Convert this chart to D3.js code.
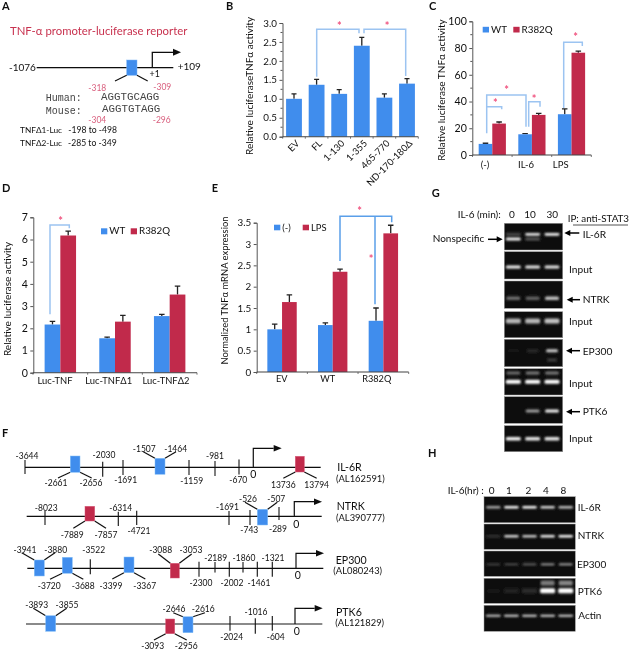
<!DOCTYPE html>
<html><head><meta charset="utf-8">
<script src="https://cdn.jsdelivr.net/npm/d3@7"></script>
<style>html,body{margin:0;padding:0;background:#fff}svg{display:block}text{font-family:Lato,"Open Sans",sans-serif;fill:#111}</style>
</head><body><svg id="c" width="630" height="651"></svg>
<script>
// ---------- bar data ----------
const bCats=["EV","FL","1-130","1-355","465-770","ND-170-180Δ"];
const bVals=[1.0,1.37,1.13,2.4,1.03,1.4];
const bErr=[0.13,0.14,0.11,0.22,0.1,0.13];
const bTicks=[0,0.5,1,1.5,2,2.5,3];
const bMinor=[0.25,0.75,1.25,1.75,2.25,2.75];

const cCats=["(-)","IL-6","LPS"];
const cWT=[8.3,15.5,30.5];
const cWTErr=[0.5,0.5,4];
const cRQ=[23.5,30,76.5];
const cRQErr=[1.2,1.2,1.2];
const cTicks=[0,20,40,60,80,100];
const cMinor=[10,30,50,70,90];

const dCats=["Luc-TNF","Luc-TNFΔ1","Luc-TNFΔ2"];
const dWT=[2.17,1.55,2.55];
const dWTErr=[0.14,0.05,0.08];
const dRQ=[6.18,2.3,3.52];
const dRQErr=[0.2,0.28,0.38];
const dTicks=[0,1,2,3,4,5,6,7];

const eCats=["EV","WT","R382Q"];
const eNeg=[1.0,1.1,1.2];
const eNegErr=[0.12,0.05,0.3];
const eLPS=[1.64,2.35,3.25];
const eLPSErr=[0.17,0.06,0.19];
const eTicks=[0,0.5,1,1.5,2,2.5,3,3.5];

// ---------- gel lane labels & band intensities ----------
const gLanes=["0","10","30"];
const gIL6R=[0.95,0.3,0];
const gIL6RUpper=[0.25,0.9,0.95];
const gInput1=[0.95,0.9,0.9];
const gNTRK=[0.4,0.35,0.75];
const gInput2=[0.7,0.7,0.75];
const gEP300=[0.03,0.12,0.8];
const gEP300Low=[0,0,0.2];
const gInput3=[1,1,1];
const gInput3Upper=[0.4,0.45,0.45];
const gPTK6=[0,0.6,0.95];
const gInput4=[0.95,0.9,0.9];

const hLanes=["0","1","2","4","8"];
const hIL6R=[0.65,1,1,0.85,0.75];
const hNTRK=[0.15,0.85,0.8,0.95,1];
const hEP300=[0.25,0.3,0.4,0.65,0.7];
const hPTK6=[0.02,0.08,0.12,1,1];
const hPTK6Smear=[0,0,0,0.45,0.5];
const hActin=[0.8,0.85,0.85,0.85,0.85];

// ---------- promoter map labels ----------
const il6rTicks=["-3644","-2030","-1691","-1159","-981","-670"];
const il6rTickPos=[[25,460,474,27,459],[102.7,461.7,476.7,104,457.7],[123,460,475,125.7,483.3],[189,460,475,191.7,483.7],[215,461,476,215,459],[239,459.5,474.5,238.3,482.7]];
const il6rSites=[["-2661","-2656"],["-1507","-1464"],["13736","13794"]];
const il6rSitePos=[[70.3,80,456,472.3,1,58,91.7,478,56,91,485.7,0],[155,165,458.3,474.3,0,143.3,176,451.7,144.3,175.7,451.7,0],[295.3,304.3,456.3,472,1,283.3,316.7,478.3,283.3,316.7,487.7,1]];

const ntrkTicks=["-8023","-6314","-4721","-1691","-743","-289"];
const ntrkTickPos=[[45,511,525,46.3,510.7],[118.3,511.7,526,120.7,510.7],[136.7,510.7,525,139,534.3],[229,511,525,227.5,509.5],[250,510,525,249.3,533.3],[279,507,520,278,531.7]];
const ntrkSites=[["-7889","-7857"],["-526","-507"]];
const ntrkSitePos=[[85,94.7,506.3,521,1,73.3,106,528.3,72.3,106,537.7,1],[257.3,267.7,509.3,525,0,245,277.3,502.3,248,276.3,502,0]];

const ep300Ticks=["-3522","-2300","-2189","-2002","-1860","-1461","-1321"];
const ep300TickPos=[[90.3,559.3,574.3,93.7,552.7],[199,561.7,576.7,201,586],[215,562,572.5,215.7,560.7],[229.3,561.7,576.7,232,585.7],[243,562,572.5,244,560.7],[257.3,561.7,576.7,259,585.7],[272.3,561.7,576.7,273,560.7]];
const ep300Sites=[["-3941","-3880"],["-3720","-3688"],["-3399","-3367"],["-3088","-3053"]];
const ep300SitePos=[[34.3,44.3,560,576,0,21.7,55,552.7,25,55.7,553.3,0],[62.3,72.3,557.3,573.3,1,50,83.3,579.3,49.3,83.3,589,0],[124,134,557,572.7,1,112.3,145.3,579,111,144.7,588.7,0],[170.3,179.3,563.3,578,0,158.3,191.7,554,160.7,191,553.3,1]];

const ptk6Ticks=["-2024","-1016","-604"];
const ptk6TickPos=[[230,616,630.7,231.7,640],[255.3,618.3,633.7,256,615],[272.3,616,630.7,275.7,640]];
const ptk6Sites=[["-3893","-3855"],["-3093","-2956"],["-2646","-2616"]];
const ptk6SitePos=[[45.7,55.7,615.7,631.3,0,33.3,66.7,608.3,36.7,67,608.3,0],[165.7,174.7,619,633.7,1,154,186.7,640,152.7,186.3,649,1],[183,193,616.7,632.7,0,173.3,205,612.7,174,203.3,611.7,0]];

// ---------- colours ----------
const BLUE="#418ded",RED="#c12a4c",PINK="#d9607f",STAR="#f0527f",BR="#9cc4f1",BR2="#5a9fe9";

const svg=d3.select("#c");
const defs=svg.append("defs");
defs.append("filter").attr("id","soft").attr("x","-5%").attr("y","-5%").attr("width","110%").attr("height","110%")
  .append("feGaussianBlur").attr("stdDeviation",0.2);
defs.append("filter").attr("id","glow").attr("x","-30%").attr("y","-100%").attr("width","160%").attr("height","300%")
  .append("feGaussianBlur").attr("stdDeviation",0.9);
const root=svg.append("g").attr("filter","url(#soft)");

function T(x,y,s,o={}){
  const t=root.append("text").attr("x",x).attr("y",y).text(s)
    .attr("font-size",o.size||9).attr("text-anchor",o.anchor||"start");
  if(o.color)t.style("fill",o.color);
  if(o.weight)t.attr("font-weight",o.weight);
  if(o.family)t.style("font-family",o.family);
  if(o.rotate!==undefined)t.attr("transform",`rotate(${o.rotate} ${x} ${y})`);
  return t;
}
function L(x1,y1,x2,y2,c="#111",w=1.2){root.append("line").attr("x1",x1).attr("y1",y1).attr("x2",x2).attr("y2",y2).attr("stroke",c).attr("stroke-width",w);}
function P(pts,c=BR,w=1.5){root.append("path").attr("d",d3.line()(pts)).attr("fill","none").attr("stroke",c).attr("stroke-width",w);}
function star(x,y){T(x,y+3.5,"*",{size:11,anchor:"middle",color:STAR,weight:"bold"});}

function yAxis(x,y,ticks,fmt,size,minor){
  const a=root.append("g").attr("transform",`translate(${x},0)`)
    .call(d3.axisLeft(y).tickValues(ticks).tickSize(3).tickPadding(2.5).tickFormat(fmt));
  a.selectAll("path,line").attr("stroke","#555");
  a.selectAll("text").attr("font-size",size).style("font-family","Lato,sans-serif").style("fill","#111");
  if(minor)a.selectAll(".minor").data(minor).enter().append("line").attr("x1",-2).attr("x2",0)
    .attr("y1",d=>y(d)).attr("y2",d=>y(d)).attr("stroke","#555");
}
function xAxis(x,y0){
  const [a,b]=x.range();
  const step=x.step(),first=x(x.domain()[0])-(x.step()-x.bandwidth())/2;
  L(a,y0,b,y0,"#444",1.1);
  d3.range(x.domain().length+1).forEach(i=>L(first+i*step,y0,first+i*step,y0+2,"#555",0.8));
}
function errBars(g,data,cx,top,capW){
  g.selectAll(null).data(data).enter().append("path")
   .attr("d",d=>{const c=cx(d),t=top(d);return `M${c},${d.py}V${t}M${c-capW/2},${t}H${c+capW/2}`;})
   .attr("stroke","#222").attr("stroke-width",1.3).attr("fill","none");
}
function single(cats,vals,errs,x,y){
  const rows=cats.map((c,i)=>({c,v:vals[i],e:errs[i],py:y(vals[i])}));
  const g=root.append("g");
  errBars(g,rows,d=>x(d.c)+x.bandwidth()/2,d=>y(d.v+d.e),5);
  g.selectAll("rect").data(rows).enter().append("rect")
   .attr("x",d=>x(d.c)).attr("width",x.bandwidth()).attr("y",d=>y(d.v)).attr("height",d=>y(0)-y(d.v)).attr("fill",BLUE);
}
function grouped(cats,a,aE,b,bE,x,y){
  const x1=d3.scaleBand().domain([0,1]).range([0,x.bandwidth()]);
  [[a,aE,BLUE,0],[b,bE,RED,1]].forEach(([vals,errs,col,k])=>{
    const rows=cats.map((c,i)=>({c,v:vals[i],e:errs[i],py:y(vals[i])}));
    const g=root.append("g");
    errBars(g,rows,d=>x(d.c)+x1(k)+x1.bandwidth()/2,d=>y(d.v+d.e),5.5);
    g.selectAll("rect").data(rows).enter().append("rect")
     .attr("x",d=>x(d.c)+x1(k)).attr("width",x1.bandwidth()).attr("y",d=>y(d.v)).attr("height",d=>y(0)-y(d.v)).attr("fill",col);
  });
}
function legend(sw1,txt1,sw2,txt2,y0,y1,base,size){
  root.append("rect").attr("x",sw1).attr("y",y0).attr("width",6.3).attr("height",y1-y0).attr("fill",BLUE);
  T(sw1+8.3,base,txt1,{size});
  root.append("rect").attr("x",sw2).attr("y",y0).attr("width",6.3).attr("height",y1-y0).attr("fill",RED);
  T(sw2+8.3,base,txt2,{size});
}

// panel letters
[["A",2,10],["B",226,9.5],["C",429,9.5],["D",2,191.5],["E",211.7,191.5],["F",2,437],["G",431.7,197.3],["H",428,457.3]]
 .forEach(([s,x,y])=>T(x,y,s,{size:11,weight:"bold",color:"#111"}));

// ---------- A ----------
T(10,35,"TNF-α promoter-luciferase reporter",{size:11.35,color:"#c8324f"});
L(36.7,67.7,173.3,67.7,"#111",1.3);
T(9,71,"-1076",{size:10});T(177.7,69.5,"+109",{size:10});
P([[152.3,67.7],[152.3,52.3],[174,52.3]],"#111",1.3);
root.append("path").attr("d",d3.line()([[173,48.8],[181,52.3],[173,55.8]])+"Z").attr("fill","#111");
T(154.7,77.3,"+1",{size:8.8,anchor:"middle"});
root.append("rect").attr("x",126.7).attr("y",60).attr("width",10.3).attr("height",15.3).attr("fill",BLUE).attr("stroke","#7fb6f5").attr("stroke-width",.5);
L(126.7,75.3,115,81);L(137,75.3,147.7,81);
T(97.3,90.7,"-318",{size:8.5,anchor:"middle",color:PINK});T(162.3,90,"-309",{size:8.5,anchor:"middle",color:PINK});
T(45.7,101,"Human:",{size:10,family:"Liberation Mono"}).style("fill","#444");T(45.7,114.3,"Mouse:",{size:10,family:"Liberation Mono"}).style("fill","#444");
T(101,100.3,"AGGTGCAGG",{size:10.8,family:"Liberation Mono"}).style("fill","#444");T(102,111.7,"AGGTGTAGG",{size:10.8,family:"Liberation Mono"}).style("fill","#444");
T(97.3,122.7,"-304",{size:8.5,anchor:"middle",color:PINK});T(161.7,122.7,"-296",{size:8.5,anchor:"middle",color:PINK});
T(20,133.3,"TNFΔ1-Luc",{size:8.3,color:"#111"});T(68.3,133.3,"-198 to -498",{size:8.6,color:"#111"});
T(20,145.7,"TNFΔ2-Luc",{size:8.3,color:"#111"});T(68,145.7,"-285 to -349",{size:8.6,color:"#111"});

// ---------- B ----------
{
 const x=d3.scaleBand().domain(bCats).range([282.7,418.3]).paddingInner(.3).paddingOuter(.15);
 const y=d3.scaleLinear().domain([0,3]).range([136.7,23]);
 yAxis(282.5,y,bTicks,d3.format(".1f"),9.8,bMinor);
 single(bCats,bVals,bErr,x,y);
 xAxis(x,136.7);
 bCats.forEach(c=>T(x(c)+x.bandwidth()/2+6,144,c,{size:9.4,anchor:"end",rotate:-45}));
 T(253,86,"Relative luciferaseTNFα  activity",{size:10,anchor:"middle",rotate:-90});
 P([[316.7,76.7],[316.7,29.3],[359,29.3],[359,33.3]]);
 P([[364,33.3],[364,29.3],[405.7,29.3],[405.7,76]]);
 star(339.3,26.7);star(387,26.7);
}
// ---------- C ----------
{
 const x=d3.scaleBand().domain(cCats).range([472.5,591.3]).paddingInner(.313).paddingOuter(.156);
 const y=d3.scaleLinear().domain([0,100]).range([155,21.3]);
 yAxis(472.3,y,cTicks,d3.format("d"),10.6,cMinor);
 grouped(cCats,cWT,cWTErr,cRQ,cRQErr,x,y);
 xAxis(x,155);
 [485,526,560.7].forEach((p,i)=>T(p,168.3,cCats[i],{size:9.5,anchor:"middle"}));
 T(445,90,"Relative luciferase TNFα  activity",{size:10,anchor:"middle",rotate:-90});
 legend(482.7,"WT",513.3,"R382Q",26.8,32.5,33,9.8);
 P([[486.7,133.3],[486.7,95],[526,95],[526,126.7]]);
 P([[486.7,106.7],[501.7,106.7],[501.7,109.3]]);
 P([[528.7,126.7],[528.7,101.7],[540,101.7],[540,106.7]]);
 P([[563.7,108],[563.7,42.3],[582.3,42.3],[582.3,46]]);
 star(506.7,90);star(495.3,103);star(534,99);star(575.7,37);
}
// ---------- D ----------
{
 const x=d3.scaleBand().domain(dCats).range([33,197]).paddingInner(.425).paddingOuter(.2125);
 const y=d3.scaleLinear().domain([0,7]).range([372.7,217.3]);
 yAxis(33.3,y,dTicks,d3.format("d"),10.6);
 grouped(dCats,dWT,dWTErr,dRQ,dRQErr,x,y);
 xAxis(x,372.7);
 [55,108.7,166].forEach((p,i)=>T(p,384,dCats[i],{size:9.4,anchor:"middle"}));
 T(11,299,"Relative luciferase activity",{size:10,anchor:"middle",rotate:-90});
 legend(101,"WT",130.7,"R382Q",228.3,234.3,234.4,9.8);
 P([[50,314.3],[50,225],[69.3,225],[69.3,228.3]]);
 star(60.7,221.7);
}
// ---------- E ----------
{
 const x=d3.scaleBand().domain(eCats).range([256.7,408.7]).paddingInner(.42).paddingOuter(.21);
 const y=d3.scaleLinear().domain([0,3.5]).range([372,222.7]);
 yAxis(256.7,y,eTicks,d=>String(d),9.8);
 grouped(eCats,eNeg,eNegErr,eLPS,eLPSErr,x,y);
 xAxis(x,372);
 [281.7,327.7,376.7].forEach((p,i)=>T(p,382.3,eCats[i],{size:9.2,anchor:"middle"}));
 T(227.7,290.5,"Normalized TNFα mRNA expression",{size:9.4,anchor:"middle",rotate:-90});
 legend(274,"(-)",302.7,"LPS",224.7,230.3,230.5,9.4);
 P([[340,261],[340,216.3],[391.7,216.3],[391.7,222.3]],BR2);
 L(375,216.3,375,304.3,BR2,1.5);
 star(359.7,211);star(371,259);
}

// ---------- F ----------
function gene(lineY,x0,x1,tickL,tickP,siteL,siteP,tss,top,tip,zero,n1,n1x,n1y,n2,n2x,n2y){
 L(x0,lineY,x1,lineY,"#111",1.2);
 tickL.forEach((s,i)=>{const [x,a,b,lx,ly]=tickP[i];L(x,a,x,b,"#111",1.1);T(lx,ly,s,{size:8.5,anchor:"middle"});});
 siteL.forEach((pair,i)=>{
  const [a,b,c,d,down,ex0,ex1,ey,l0,l1,ly,red]=siteP[i];
  const sy=down?d:c;
  L(a,sy,ex0,ey);L(b,sy,ex1,ey);
  root.append("rect").attr("x",a).attr("y",c).attr("width",b-a).attr("height",d-c)
    .attr("fill",red?RED:BLUE).attr("stroke",red?"#d75a78":"#85c0f5").attr("stroke-width",.5);
  T(l0,ly,pair[0],{size:8.5,anchor:"middle"});T(l1,ly,pair[1],{size:8.5,anchor:"middle"});
 });
 P([[tss,lineY],[tss,top],[tip-8,top]],"#111",1.2);
 root.append("path").attr("d",d3.line()([[tip-8,top-3.3],[tip,top],[tip-8,top+3.3]])+"Z").attr("fill","#111");
 T(zero[0],zero[1],"0",{size:10.5,anchor:"middle"});
 T(n1x,n1y,n1,{size:10.6});T(n2x,n2y,n2,{size:9.4});
}
gene(467.3,25,320.7,il6rTicks,il6rTickPos,il6rSites,il6rSitePos,253.3,448.3,281.7,[253.3,478.3],"IL-6R",337.3,471,"(AL162591)",336,481.7);
gene(516.3,26.7,321.7,ntrkTicks,ntrkTickPos,ntrkSites,ntrkSitePos,294.3,501.7,322,[296.3,527.7],"NTRK",336.7,510,"(AL390777)",336,521);
gene(568.3,27.3,323.3,ep300Ticks,ep300TickPos,ep300Sites,ep300SitePos,296,553.3,324,[297.7,579.3],"EP300",335.7,564.3,"(AL080243)",333.3,574);
gene(624,26,322.3,ptk6Ticks,ptk6TickPos,ptk6Sites,ptk6SitePos,295,608.3,322.7,[296.7,635],"PTK6",336,615.7,"(AL121829)",335.3,626);

// ---------- gels ----------
function gelBox(x0,x1,y0,y1){
  root.append("rect").attr("x",x0).attr("y",y0).attr("width",x1-x0).attr("height",y1-y0).attr("fill","#0e0e0e").attr("stroke","#999").attr("stroke-width",.5);
}
function bands(lx,lanes,vals,bandY,bw,bh){
  const g=root.append("g").attr("filter","url(#glow)");
  g.selectAll("rect").data(lanes.map((l,i)=>({l,v:vals[i]}))).enter().append("rect")
   .attr("x",d=>lx(d.l)-bw/2).attr("width",bw).attr("y",bandY-bh/2).attr("height",bh).attr("rx",1.5)
   .attr("fill","#fff").attr("opacity",d=>d.v);
}
const GX0=504.3,GX1=562.7;
const gx=d3.scalePoint().domain(gLanes).range([513.3,552]);
[[223.3,250],[251.7,279],[281,308.3],[311.7,337.7],[339.3,366.7],[368.7,395],[396.7,423.3],[425.7,451.7]].forEach(([a,b])=>gelBox(GX0,GX1,a,b));
bands(gx,gLanes,gIL6R,239,15,3.2);
bands(gx,gLanes,gIL6RUpper,234.3,15,2.8);
bands(gx,gLanes,gInput1,267,15,3);
bands(gx,gLanes,gNTRK,298.3,14,3.5);
bands(gx,gLanes,gInput2,321,15,5);
bands(gx,gLanes,gEP300,350.7,12,3);
bands(gx,gLanes,gEP300Low,360,10,3);
bands(gx,gLanes,gInput3,381.7,15,4);
bands(gx,gLanes,gInput3Upper,373,14,3);
bands(gx,gLanes,gPTK6,411,14,3);
bands(gx,gLanes,gInput4,438.7,15,3.5);

T(457.7,218.3,"IL-6 (min):",{size:10});
T(512,218.3,gLanes[0],{size:10,anchor:"middle"});T(530,218.3,gLanes[1],{size:10,anchor:"middle"});T(552.3,218.3,gLanes[2],{size:10,anchor:"middle"});
T(567.7,222,"IP: anti-STAT3",{size:9.8});L(573,225,628,225,"#222",.8);
T(432.7,241.7,"Nonspecific",{size:10});
function arrowL(xt,xe,y){L(xt+4,y,xe,y,"#000",1.5);root.append("path").attr("d",d3.line()([[xt,y],[xt+6,y-3],[xt+6,y+3]])+"Z").attr("fill","#000");}
L(488,239.3,498,239.3,"#000",1.5);root.append("path").attr("d",d3.line()([[502.7,239.3],[496.7,236.3],[496.7,242.3]])+"Z").attr("fill","#000");
arrowL(564.3,579.3,233);T(582.7,237.7,"IL-6R",{size:10.2});
T(569,273.3,"Input",{size:10.2});
arrowL(566.7,580,299.7);T(582.7,303.3,"NTRK",{size:10.2});
T(569,325,"Input",{size:10.2});
arrowL(566,580,350.7);T(582.7,355,"EP300",{size:10.2});
T(569,387,"Input",{size:10.2});
arrowL(566,580,411.7);T(582.7,415,"PTK6",{size:10.2});
T(569,442.3,"Input",{size:10.2});

const HX0=484,HX1=575.3;
const hx=d3.scalePoint().domain(hLanes).range([493.3,565.7]);
[[496.7,522.7],[524,549.3],[551,576.3],[578.3,603.3],[605.3,631.3]].forEach(([a,b])=>gelBox(HX0,HX1,a,b));
bands(hx,hLanes,hIL6R,507.3,14.5,2.4);
bands(hx,hLanes,hNTRK,536.3,14.5,2.6);
bands(hx,hLanes,hEP300,564.3,14,1.8);
bands(hx,hLanes,hPTK6,590.7,15,5);
bands(hx,hLanes,hPTK6Smear,583,14,5);
bands(hx,hLanes,hActin,615.7,15,2);

T(447.7,494.3,"IL-6(hr) :",{size:10});
[491.7,509,528.3,546,563.3].forEach((p,i)=>T(p,494.3,hLanes[i],{size:10,anchor:"middle"}));
T(577.7,510.7,"IL-6R",{size:10});T(577.7,538.7,"NTRK",{size:10});T(577,567.7,"EP300",{size:10});T(577.7,595.3,"PTK6",{size:10});T(578.3,619,"Actin",{size:10});
</script></body></html>
